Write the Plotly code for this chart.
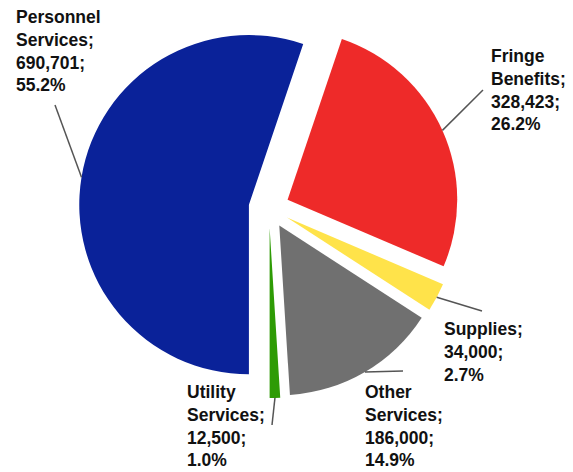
import math
import plotly.graph_objects as go

# Budget breakdown
categories = ["Personnel Services", "Fringe Benefits", "Supplies", "Other Services", "Utility Services"]
label_lines = [["Personnel", "Services;"], ["Fringe", "Benefits;"], ["Supplies;"],
               ["Other", "Services;"], ["Utility", "Services;"]]
values = [690701, 328423, 34000, 186000, 12500]
colors = ["#0A2299", "#EE2A29", "#FFE34A", "#707070", "#2E9B05"]

PULL = 0.12
W, H = 573, 472
M = dict(l=79, r=114, t=18, b=74)
pw, ph = W - M["l"] - M["r"], H - M["t"] - M["b"]

# Pie geometry (same rule plotly uses to size a pulled pie)
cx = M["l"] + pw / 2
cy = M["t"] + ph / 2
radius = min(pw, ph) / (2 + 2 * PULL)
START = 180  # first slice starts at 6 o'clock, going clockwise


def to_paper(px, py):
    return (px - M["l"]) / pw, 1 - (py - M["t"]) / ph


# Where each label block sits (top-left corner, px) and where its leader line ends
label_pos = [(14, 5), (489, 44), (442, 317), (363, 380), (185, 380)]
leader_end = [(55, 105), (483, 90), (482, 311), (403, 371), (272, 425)]

fig = go.Figure(go.Pie(
    labels=categories,
    values=values,
    marker=dict(colors=colors, line=dict(width=0)),
    pull=[PULL] * len(values),
    sort=False,
    direction="clockwise",
    rotation=START,
    textinfo="none",
    hoverinfo="label+value+percent",
    showlegend=False,
))

total = sum(values)
cum = 0
shapes, annotations = [], []
for i, v in enumerate(values):
    mid = START + (cum + v / 2) / total * 360
    cum += v
    a = math.radians(mid)
    dx, dy = math.sin(a), -math.cos(a)
    ex = cx + radius * (1 + PULL) * dx
    ey = cy + radius * (1 + PULL) * dy
    x0, y0 = to_paper(ex, ey)
    x1, y1 = to_paper(*leader_end[i])
    shapes.append(dict(type="line", xref="paper", yref="paper", x0=x0, y0=y0, x1=x1, y1=y1,
                       line=dict(color="#555555", width=1.5)))
    pct = v / total * 100
    text = "<br>".join(label_lines[i] + [f"{v:,};", f"{pct:.1f}%"])
    tx, ty = to_paper(*label_pos[i])
    annotations.append(dict(x=tx, y=ty, xref="paper", yref="paper", xanchor="left", yanchor="top",
                            text=f"<b>{text}</b>", showarrow=False, align="left",
                            font=dict(family="Liberation Sans, Arial, sans-serif", size=17.5, color="#111111")))

fig.update_layout(
    width=W, height=H,
    margin=M,
    paper_bgcolor="white",
    plot_bgcolor="white",
    shapes=shapes,
    annotations=annotations,
)

fig.write_html("out.html")
